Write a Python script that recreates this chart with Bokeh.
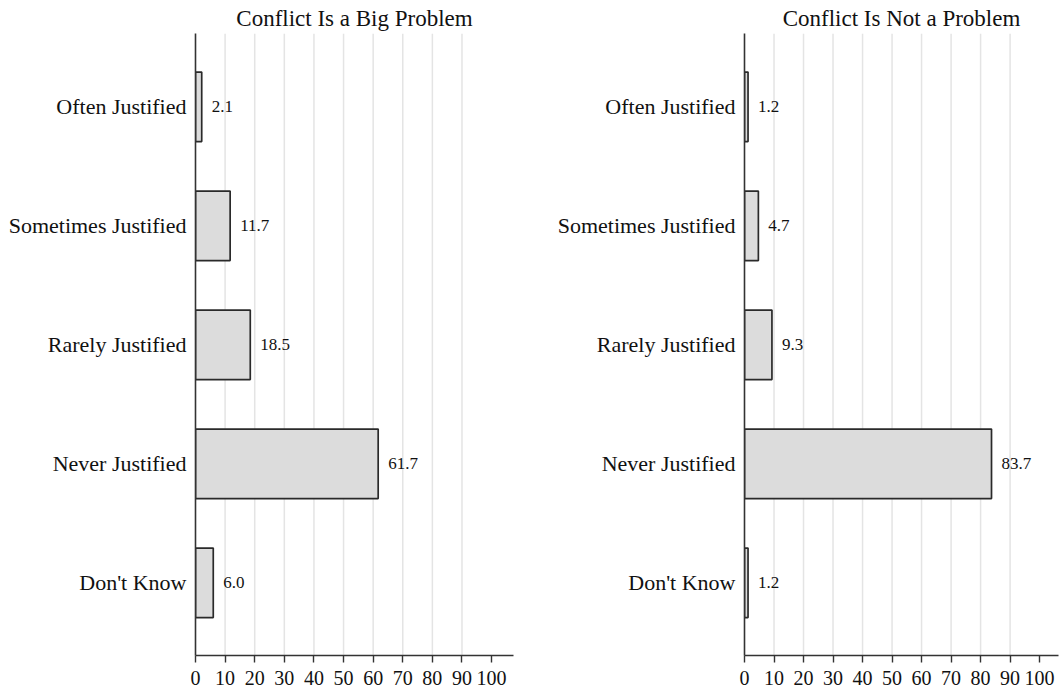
from bokeh.plotting import figure
from bokeh.layouts import row
from bokeh.models import Range1d, FixedTicker, ColumnDataSource, Span
from bokeh.embed import file_html
from bokeh.resources import INLINE

categories = ["Often Justified", "Sometimes Justified", "Rarely Justified", "Never Justified", "Don't Know"]
big_problem = [2.1, 11.7, 18.5, 61.7, 6.0]
not_problem = [1.2, 4.7, 9.3, 83.7, 1.2]
titles = ["Conflict Is a Big Problem", "Conflict Is Not a Problem"]
x_ticks = [0, 10, 20, 30, 40, 50, 60, 70, 80, 90, 100]

FONT = "Liberation Serif"


def panel(title, values, frame_w, x_end, border_left, border_right):
    pos = list(range(len(categories)))
    src = ColumnDataSource(dict(
        y=pos, v=values, label=[f"{v:.1f}" for v in values],
    ))
    p = figure(title=title, frame_width=frame_w, frame_height=622,
               x_range=Range1d(0, x_end), y_range=Range1d(4.611, -0.616),
               output_backend="svg", toolbar_location=None,
               min_border_left=border_left, min_border_right=border_right,
               min_border_top=33, min_border_bottom=37)
    p.title.text_font = FONT
    p.title.text_font_size = "23px"
    p.title.text_font_style = "normal"
    p.title.text_color = "#111111"
    p.title.align = "center"
    p.title.standoff = 6
    p.title.offset = 0
    p.outline_line_color = None
    p.background_fill_color = "white"
    p.ygrid.visible = False
    p.xgrid.visible = False
    for t in x_ticks[1:-1]:
        p.add_layout(Span(location=t, dimension="height", line_color="#e4e4e4",
                          line_width=1.5, level="underlay"))
    p.hbar(y="y", right="v", left=0, height=0.584, source=src,
           fill_color="#dcdcdc", line_color="#2a2a2a", line_width=1.7)
    p.text(x="v", y="y", text="label", source=src, x_offset=10,
           text_align="left", text_baseline="middle",
           text_font={"value": FONT}, text_font_size="17px", text_color="#111111")
    # axes
    p.xaxis.ticker = FixedTicker(ticks=x_ticks)
    p.xaxis.major_label_text_font = FONT
    p.xaxis.major_label_text_font_size = "20px"
    p.xaxis.major_label_text_color = "#111111"
    p.xaxis.axis_line_color = "#333333"
    p.xaxis.axis_line_width = 1.6
    p.xaxis.major_tick_line_color = "#333333"
    p.xaxis.major_tick_line_width = 1.4
    p.xaxis.major_tick_out = 7
    p.xaxis.major_tick_in = 0
    p.xaxis.minor_tick_line_color = None
    p.xaxis.major_label_standoff = 8
    p.yaxis.ticker = FixedTicker(ticks=pos)
    p.yaxis.major_label_overrides = {i: c for i, c in enumerate(categories)}
    p.yaxis.major_label_text_font = FONT
    p.yaxis.major_label_text_font_size = "22px"
    p.yaxis.major_label_text_color = "#111111"
    p.yaxis.axis_line_color = "#333333"
    p.yaxis.axis_line_width = 1.6
    p.yaxis.major_tick_line_color = None
    p.yaxis.minor_tick_line_color = None
    p.yaxis.major_label_standoff = 3
    return p


left = panel(titles[0], big_problem, 318, 107.4, 195, 36)
right = panel(titles[1], not_problem, 314, 106.4, 195, 2)
layout = row(left, right, spacing=0)

open("out.html", "w").write(file_html(layout, INLINE))
